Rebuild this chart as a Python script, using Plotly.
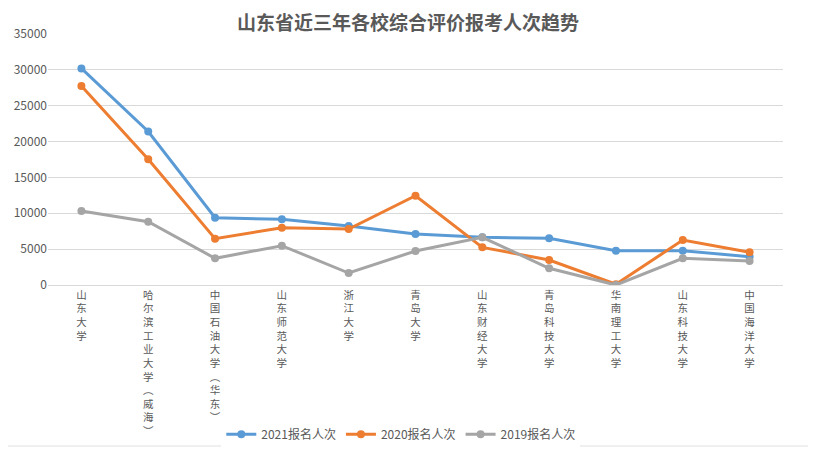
import plotly.graph_objects as go

categories = ["山东大学", "哈尔滨工业大学（威海）", "中国石油大学（华东）", "山东师范大学", "浙江大学",
              "青岛大学", "山东财经大学", "青岛科技大学", "华南理工大学", "山东科技大学", "中国海洋大学"]
y2021 = [30200, 21400, 9380, 9160, 8220, 7110, 6650, 6510, 4780, 4780, 3950]
y2020 = [27750, 17520, 6460, 7990, 7810, 12450, 5250, 3490, 100, 6270, 4560]
y2019 = [10320, 8830, 3720, 5480, 1670, 4740, 6650, 2330, 0, 3720, 3340]
series_names = ["2021报名人次", "2020报名人次", "2019报名人次"]
colors = ["#5B9BD5", "#ED7D31", "#A5A5A5"]
yticks = [0, 5000, 10000, 15000, 20000, 25000, 30000, 35000]

def vert(s):
    s = s.replace("（", "︵").replace("）", "︶")
    return "<br>".join(list(s))

tick_text = [vert(c) for c in categories]

fig = go.Figure()
for name, vals, col in zip(series_names, [y2021, y2020, y2019], colors):
    fig.add_trace(go.Scatter(
        x=list(range(len(categories))), y=vals, name=name, mode="lines+markers",
        line=dict(color=col, width=3), marker=dict(color=col, size=8),
    ))

font_family = "Noto Sans CJK SC, Microsoft YaHei, sans-serif"
fig.update_layout(
    width=808, height=441,
    paper_bgcolor="white", plot_bgcolor="white",
    margin=dict(l=40, r=33, t=26, b=164, autoexpand=False),
    font=dict(family=font_family, color="#595959", size=12),
    title=dict(text="<b>山东省近三年各校综合评价报考人次趋势</b>", x=400/808, xref="container",
               y=1 - 15/441, yref="container", xanchor="center", yanchor="middle",
               font=dict(size=19, color="#595959", family=font_family)),
    showlegend=True,
    legend=dict(orientation="h", x=0.48, xanchor="center", y=-0.595, yanchor="middle",
                font=dict(size=12, color="#595959"), itemwidth=30, traceorder="normal"),
    xaxis=dict(
        tickmode="array", tickvals=list(range(len(categories))), ticktext=tick_text,
        range=[-0.5, len(categories) - 0.5], tickangle=0, automargin=False,
        showgrid=False, zeroline=False, showline=True, linecolor="#D9D9D9",
        ticks="", tickfont=dict(size=10.5, color="#595959"),
    ),
    yaxis=dict(
        range=[0, 35000], tickmode="array", tickvals=yticks, ticktext=[str(v) for v in yticks],
        showgrid=True, gridcolor="#D9D9D9", automargin=False,
        zeroline=False, showline=False, ticks="", tickfont=dict(size=12, color="#595959"),
    ),
)
fig.add_shape(type="rect", xref="paper", yref="paper", x0=-60/735, x1=(804 - 40)/735,
              y0=-(438 - 277)/251, y1=1 + 40/251, line=dict(color="#E0E0E0", width=1), layer="below")
fig.write_html("out.html")
